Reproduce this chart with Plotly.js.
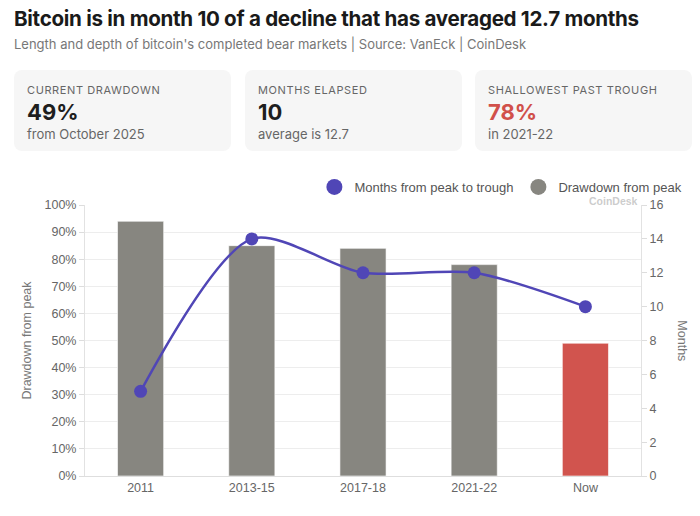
<!DOCTYPE html>
<html>
<head>
<meta charset="utf-8">
<script src="https://cdn.plot.ly/plotly-3.0.1.min.js"></script>
<style>
  html, body { margin:0; padding:0; background:#fff; }
  body { width:700px; height:516px; position:relative; overflow:hidden; font-family:Inter, "Liberation Sans", sans-serif; }
  #chart { position:absolute; left:0; top:0; width:700px; height:516px; }
  .title { position:absolute; left:14px; top:6px; font-size:20.6px; font-weight:700; color:#1a1a1a; letter-spacing:-0.3px; white-space:nowrap; z-index:2; }
  .subtitle { position:absolute; left:14px; top:36px; font-size:13px; color:#777; white-space:nowrap; z-index:2; }
  .card { position:absolute; top:70px; height:81px; width:217px; background:#f6f6f6; border-radius:8px; z-index:2; box-sizing:border-box; padding:13px 13px; }
  .card .lab { font-size:11px; letter-spacing:0.6px; color:#666; line-height:14px; }
  .card .val { font-size:22px; font-weight:700; color:#1e1e1e; line-height:26px; margin-top:2px; }
  .card .sub { font-size:13px; color:#666; line-height:16px; margin-top:1px; }
</style>
</head>
<body>
<div id="chart"></div>
<div class="title" id="title"></div>
<div class="subtitle" id="subtitle"></div>
<div id="cards"></div>
<script>
// ---- data ----
const categories = ["2011", "2013-15", "2017-18", "2021-22", "Now"];
const drawdownPct = [94, 85, 84, 78, 49];
const monthsToTrough = [5, 14, 12, 12, 10];
const barColors = ["#878680", "#878680", "#878680", "#878680", "#d1544e"];

const cardLabels = ["CURRENT DRAWDOWN", "MONTHS ELAPSED", "SHALLOWEST PAST TROUGH"];
const cardValues = ["49%", "10", "78%"];
const cardSubs = ["from October 2025", "average is 12.7", "in 2021-22"];
const cardValueColors = ["#1e1e1e", "#1e1e1e", "#d1504a"];

const titleText = "Bitcoin is in month 10 of a decline that has averaged 12.7 months";
const subtitleText = "Length and depth of bitcoin's completed bear markets | Source: VanEck | CoinDesk";

// ---- header & cards ----
document.getElementById('title').textContent = titleText;
document.getElementById('subtitle').textContent = subtitleText;
const cardLefts = [14, 245, 475];
const cardsEl = document.getElementById('cards');
cardLabels.forEach((lab, i) => {
  const d = document.createElement('div');
  d.className = 'card';
  d.style.left = cardLefts[i] + 'px';
  d.innerHTML = '<div class="lab"></div><div class="val"></div><div class="sub"></div>';
  d.querySelector('.lab').textContent = lab;
  const v = d.querySelector('.val');
  v.textContent = cardValues[i];
  v.style.color = cardValueColors[i];
  d.querySelector('.sub').textContent = cardSubs[i];
  cardsEl.appendChild(d);
});

// ---- chart ----
const lineColor = "#5046b6";
const chartFont = "Liberation Sans, Arial, sans-serif";

const traces = [
  {
    type: 'bar', x: categories, y: drawdownPct, yaxis: 'y',
    marker: { color: barColors, line: { color: 'rgba(255,255,255,0.6)', width: 1 } },
    showlegend: false, hoverinfo: 'skip'
  },
  {
    type: 'scatter', mode: 'lines+markers', x: categories, y: monthsToTrough, yaxis: 'y2',
    line: { color: lineColor, width: 2.5, shape: 'spline', smoothing: 0.8 },
    marker: { color: lineColor, size: 13 },
    showlegend: false, hoverinfo: 'skip'
  },
  // legend entries
  { type: 'scatter', mode: 'markers', x: [null], y: [null], name: 'Months from peak to trough',
    marker: { color: lineColor, size: 20 } },
  { type: 'scatter', mode: 'markers', x: [null], y: [null], name: 'Drawdown from peak',
    marker: { color: '#878680', size: 20 } }
];

const layout = {
  width: 700, height: 516,
  margin: { l: 85, r: 59, t: 205, b: 40, pad: 0 },
  paper_bgcolor: '#ffffff', plot_bgcolor: '#ffffff',
  font: { family: chartFont, size: 12.5, color: '#666' },
  bargap: 0.585,
  showlegend: true,
  legend: {
    orientation: 'h', xref: 'container', yref: 'container',
    x: 0.982, xanchor: 'right', y: 1 - 187/516, yanchor: 'middle',
    font: { size: 13, color: '#555' }, itemsizing: 'trace', traceorder: 'normal',
    bgcolor: 'rgba(0,0,0,0)', itemwidth: 30
  },
  xaxis: {
    type: 'category', showline: true, linecolor: '#dedede', linewidth: 1,
    ticks: '', showgrid: false, tickfont: { size: 12.5, color: '#666' }, fixedrange: true
  },
  yaxis: {
    range: [0, 100], dtick: 10, ticksuffix: '%', showgrid: true, gridcolor: '#ededed',
    zeroline: false, showline: true, linecolor: '#e2e2e2', ticks: 'outside', ticklen: 5,
    tickcolor: '#dddddd', tickfont: { size: 12.5, color: '#666' },
    title: { text: 'Drawdown from peak', font: { size: 12.5, color: '#777' }, standoff: 10 }
  },
  yaxis2: {
    range: [0, 16], dtick: 2, overlaying: 'y', side: 'right', showgrid: false,
    zeroline: false, showline: true, linecolor: '#e2e2e2', ticks: 'outside', ticklen: 5,
    tickcolor: '#dddddd', tickfont: { size: 12.5, color: '#666' }
  },
  annotations: [
    { text: 'Months', xref: 'paper', yref: 'paper', x: 1.074, y: 0.5, textangle: 90,
      xanchor: 'center', yanchor: 'middle',
      showarrow: false, font: { size: 12.5, color: '#777' } },
    { text: '<b>CoinDesk</b>', xref: 'paper', yref: 'paper', x: 0.95, y: 1.016,
      xanchor: 'center', yanchor: 'middle',
      showarrow: false, font: { size: 10.5, color: 'rgba(175,175,175,0.65)' } }
  ]
};

Plotly.newPlot('chart', traces, layout, { staticPlot: true, displayModeBar: false });
</script>
</body>
</html>
